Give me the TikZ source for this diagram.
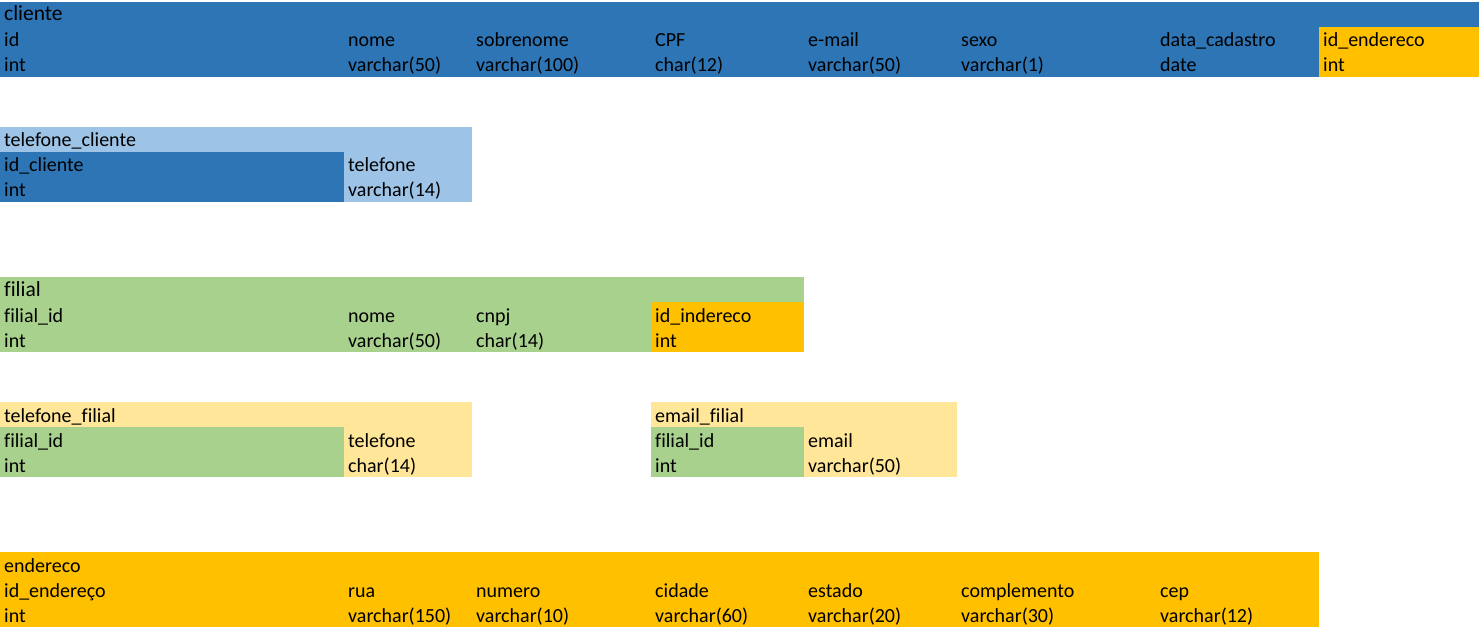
\documentclass[tikz,border=0pt]{standalone}
\usepackage{fontspec}
\setmainfont[Ligatures=NoCommon]{Carlito}
\usepackage{tikz}
\usepackage{xcolor}
\definecolor{dblue}{HTML}{2E75B6}
\definecolor{lblue}{HTML}{9DC3E6}
\definecolor{lgreen}{HTML}{A9D18E}
\definecolor{dorange}{HTML}{FFC000}
\definecolor{lyellow}{HTML}{FFE699}
\tikzset{
  txt/.style={anchor=base west, inner sep=0pt, font=\fontsize{20}{24}\selectfont},
  ttl/.style={txt, font=\fontsize{21.5}{26}\selectfont}
}

\begin{document}
\begin{tikzpicture}[x=1pt, y=-1pt]
\fill[white] (0,0) rectangle (1482,636);
\useasboundingbox (0,0) rectangle (1482,636);
% cliente
\fill[dblue] (0,2) rectangle (1479,77);
\fill[dorange] (1319,27) rectangle (1479,77);
\node[ttl] (cli) at (4,21) {cliente};
\node[txt] (cliId) at (4,47) {id};
\node[txt] (cliNome) at (348,47) {nome};
\node[txt] (cliSob) at (476,47) {sobrenome};
\node[txt] (cliCpf) at (655,47) {CPF};
\node[txt] (cliMail) at (808,47) {e-mail};
\node[txt] (cliSexo) at (961,47) {sexo};
\node[txt] (cliData) at (1160,47) {data\_cadastro};
\node[txt] (cliEnd) at (1323,47) {id\_endereco};
\node[txt] (cliIdT) at (4,72) {int};
\node[txt] (cliNomeT) at (348,72) {varchar(50)};
\node[txt] (cliSobT) at (476,72) {varchar(100)};
\node[txt] (cliCpfT) at (655,72) {char(12)};
\node[txt] (cliMailT) at (808,72) {varchar(50)};
\node[txt] (cliSexoT) at (961,72) {varchar(1)};
\node[txt] (cliDataT) at (1160,72) {date};
\node[txt] (cliEndT) at (1323,72) {int};
% telefone_cliente
\fill[lblue] (0,127) rectangle (472,202);
\fill[dblue] (0,152) rectangle (344,202);
\node[txt] (tcli) at (4,147) {telefone\_cliente};
\node[txt] (tcliId) at (4,172) {id\_cliente};
\node[txt] (tcliTel) at (348,172) {telefone};
\node[txt] (tcliIdT) at (4,197) {int};
\node[txt] (tcliTelT) at (348,197) {varchar(14)};
% filial
\fill[lgreen] (0,277) rectangle (804,352);
\fill[dorange] (651,302) rectangle (804,352);
\node[ttl] (fil) at (4,296) {filial};
\node[txt] (filId) at (4,322) {filial\_id};
\node[txt] (filNome) at (348,322) {nome};
\node[txt] (filCnpj) at (476,322) {cnpj};
\node[txt] (filEnd) at (655,322) {id\_indereco};
\node[txt] (filIdT) at (4,347) {int};
\node[txt] (filNomeT) at (348,347) {varchar(50)};
\node[txt] (filCnpjT) at (476,347) {char(14)};
\node[txt] (filEndT) at (655,347) {int};
% telefone_filial
\fill[lyellow] (0,402) rectangle (472,477);
\fill[lgreen] (0,427) rectangle (344,477);
\node[txt] (tfil) at (4,422) {telefone\_filial};
\node[txt] (tfilId) at (4,447) {filial\_id};
\node[txt] (tfilTel) at (348,447) {telefone};
\node[txt] (tfilIdT) at (4,472) {int};
\node[txt] (tfilTelT) at (348,472) {char(14)};
% email_filial
\fill[lyellow] (651,402) rectangle (957,477);
\fill[lgreen] (651,427) rectangle (804,477);
\node[txt] (efil) at (655,422) {email\_filial};
\node[txt] (efilId) at (655,447) {filial\_id};
\node[txt] (efilMail) at (808,447) {email};
\node[txt] (efilIdT) at (655,472) {int};
\node[txt] (efilMailT) at (808,472) {varchar(50)};
% endereco
\fill[dorange] (0,552) rectangle (1319,627);
\node[txt] (end) at (4,572) {endereco};
\node[txt] (endId) at (4,597) {id\_endereço};
\node[txt] (endRua) at (348,597) {rua};
\node[txt] (endNum) at (476,597) {numero};
\node[txt] (endCid) at (655,597) {cidade};
\node[txt] (endEst) at (808,597) {estado};
\node[txt] (endCompl) at (961,597) {complemento};
\node[txt] (endCep) at (1160,597) {cep};
\node[txt] (endIdT) at (4,622) {int};
\node[txt] (endRuaT) at (348,622) {varchar(150)};
\node[txt] (endNumT) at (476,622) {varchar(10)};
\node[txt] (endCidT) at (655,622) {varchar(60)};
\node[txt] (endEstT) at (808,622) {varchar(20)};
\node[txt] (endComplT) at (961,622) {varchar(30)};
\node[txt] (endCepT) at (1160,622) {varchar(12)};
\end{tikzpicture}
\end{document}
